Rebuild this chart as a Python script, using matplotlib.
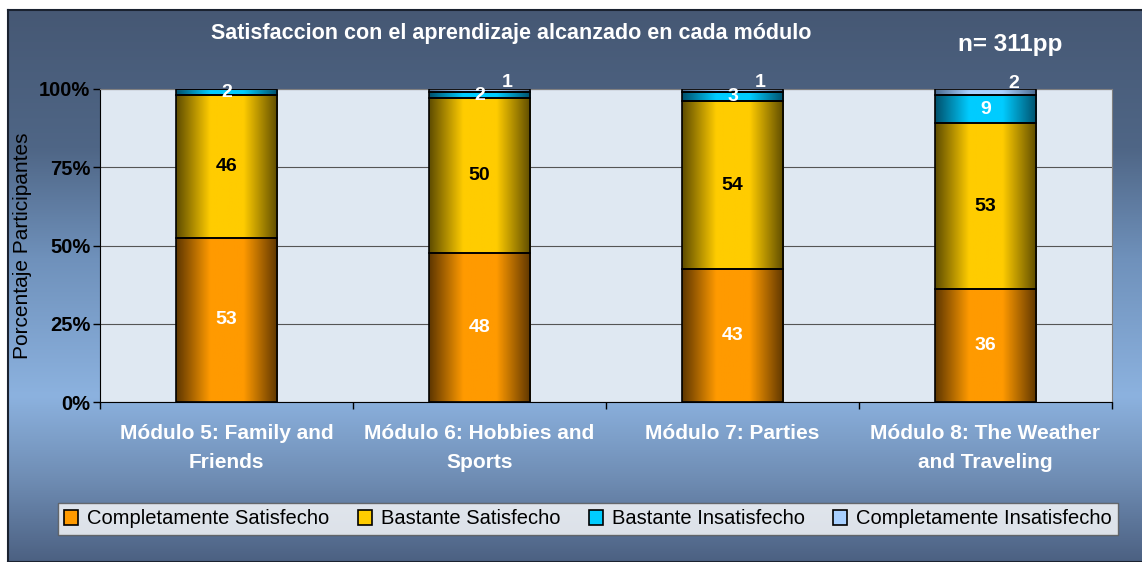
import matplotlib
matplotlib.use('Agg')

import numpy as np
import matplotlib.pyplot as plt
from matplotlib.colors import LinearSegmentedColormap
from matplotlib.patches import Rectangle

plt.rcParams['font.family'] = ['Liberation Sans', 'DejaVu Sans']

# datos (porcentaje de participantes)
modulos = ['Módulo 5: Family and\nFriends', 'Módulo 6: Hobbies and\nSports',
           'Módulo 7: Parties', 'Módulo 8: The Weather\nand Traveling']
completamente_satisfecho = [53, 48, 43, 36]
bastante_satisfecho = [46, 50, 54, 53]
bastante_insatisfecho = [2, 2, 3, 9]
completamente_insatisfecho = [0, 1, 1, 2]

series = ['Completamente Satisfecho', 'Bastante Satisfecho',
          'Bastante Insatisfecho', 'Completamente Insatisfecho']
valores = [completamente_satisfecho, bastante_satisfecho,
           bastante_insatisfecho, completamente_insatisfecho]
# (borde oscuro, centro claro)
colores = [('#5e3600', '#ff9a00'), ('#5e4c00', '#ffcc00'),
           ('#00506c', '#00ccff'), ('#4a6a90', '#a8d0ff')]
color_etiqueta = ['white', 'black', 'white', 'white']

fig = plt.figure(figsize=(11.42, 5.62), dpi=100)
fig.patch.set_facecolor('white')

# fondo degradado del grafico
bg = fig.add_axes([8 / 1142, 0, 1, 552 / 562], zorder=-5)
fondo = LinearSegmentedColormap.from_list('fondo', [
    (0.0, '#465874'), (0.25, '#4f6686'), (0.45, '#6f91bb'),
    (0.70, '#8cb2df'), (0.85, '#6f8db4'), (1.0, '#4c6182')])
bg.imshow(np.linspace(0, 1, 256).reshape(-1, 1), cmap=fondo, aspect='auto',
          extent=[0, 1, 0, 1])
bg.set_xlim(0, 1)
bg.set_ylim(0, 1)
bg.set_xticks([])
bg.set_yticks([])
for s in bg.spines.values():
    s.set_color('#1a2230')
    s.set_linewidth(1.5)

ax = fig.add_axes([100 / 1142, 160 / 562, 1012 / 1142, 313 / 562])
ax.set_facecolor('#dfe8f2')

x = np.arange(len(modulos))
totales = np.array(valores).sum(axis=0)
base = np.zeros(len(modulos))

for i, (nombre, v) in enumerate(zip(series, valores)):
    pct = np.array(v) / totales * 100
    barras = ax.bar(x, pct, 0.40, bottom=base, facecolor='none',
                    edgecolor='black', linewidth=1.2, zorder=3)
    oscuro, claro = colores[i]
    cmap = LinearSegmentedColormap.from_list('g%d' % i, [oscuro, claro, claro, oscuro])
    for b in barras:
        if b.get_height() <= 0:
            continue
        img = ax.imshow(np.linspace(0, 1, 128).reshape(1, -1), cmap=cmap,
                        aspect='auto', zorder=2,
                        extent=[b.get_x(), b.get_x() + b.get_width(),
                                b.get_y(), b.get_y() + b.get_height()])
        img.set_clip_path(b)
    for j, b in enumerate(barras):
        if v[j] == 0:
            continue
        cy = base[j] + pct[j] / 2
        if i == 3:
            ax.annotate(str(v[j]), (x[j], cy), xytext=(20, 6),
                        textcoords='offset points', ha='center', va='center',
                        color='white', fontsize=14, fontweight='bold', zorder=5)
        else:
            ax.text(x[j], cy, str(v[j]), ha='center', va='center',
                    color=color_etiqueta[i], fontsize=14, fontweight='bold', zorder=5)
    base += pct

ax.set_xlim(-0.5, len(modulos) - 0.5)
ax.set_ylim(0, 100)
ax.set_yticks([0, 25, 50, 75, 100])
ax.set_yticklabels(['0%', '25%', '50%', '75%', '100%'], fontsize=14.5, fontweight='bold')
ax.yaxis.grid(True, color='#555555', linewidth=0.8, zorder=1)
ax.set_axisbelow(True)
ax.tick_params(axis='y', direction='out', length=5, width=1, pad=2)

ax.set_xticks(x)
ax.set_xticklabels(modulos, color='white', fontsize=15, fontweight='bold',
                   linespacing=1.65)
ax.tick_params(axis='x', which='major', length=0, pad=16)
ax.set_xticks(np.arange(-0.5, len(modulos)), minor=True)
ax.tick_params(axis='x', which='minor', direction='out', length=5, width=1)

ax.spines['left'].set_color('black')
ax.spines['bottom'].set_color('black')
ax.spines['top'].set_color('#808080')
ax.spines['right'].set_color('#808080')

ax.set_ylabel('Porcentaje Participantes', fontsize=15, labelpad=5)

fig.text(511 / 1142, 1 - 33 / 562, 'Satisfaccion con el aprendizaje alcanzado en cada módulo',
         ha='center', va='center', color='white', fontsize=15.5, fontweight='bold')
fig.text(1010 / 1142, 1 - 45 / 562, 'n= 311pp', ha='center', va='center',
         color='white', fontsize=17.5, fontweight='bold')

handles = [Rectangle((0, 0), 1, 1, facecolor=c[1], edgecolor='black', linewidth=1.2)
           for c in colores]
leg = fig.legend(handles, series, loc='center', ncol=4,
                 bbox_to_anchor=(588 / 1142, 1 - 519 / 562),
                 fontsize=14.5, frameon=True, fancybox=False, handlelength=0.7,
                 handleheight=0.7, handletextpad=0.45, columnspacing=1.4,
                 borderpad=0.3, borderaxespad=0)
leg.get_frame().set_edgecolor('#555555')
leg.get_frame().set_linewidth(1.0)

fig.savefig('out.png', dpi=100)
